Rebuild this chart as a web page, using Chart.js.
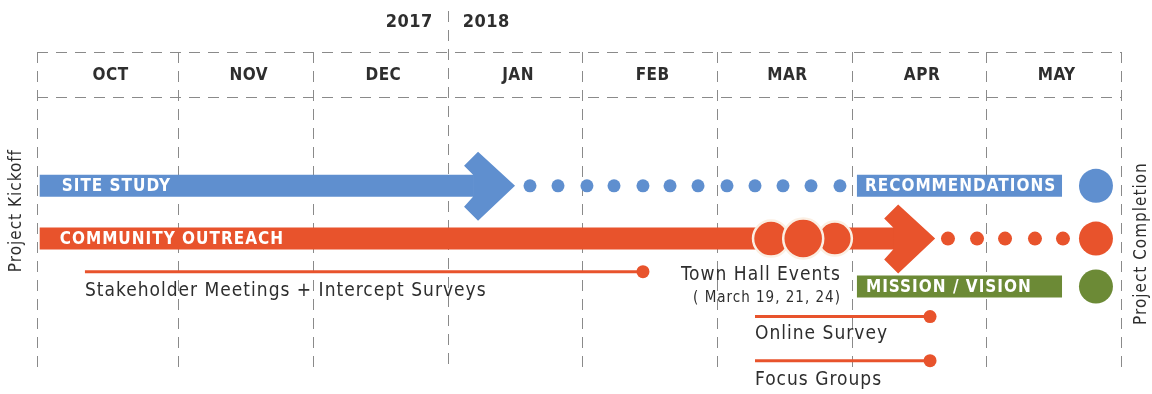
<!DOCTYPE html>
<html lang="en">
<head>
<meta charset="UTF-8">
<title>Project Timeline</title>
<script src="https://cdn.jsdelivr.net/npm/chart.js"></script>
<style>
  html, body { margin: 0; padding: 0; background: #fff; }
</style>
</head>
<body>
<canvas id="timeline" width="1152" height="394"></canvas>
<script>
  // x = months since Oct 1 2017 (0) up to Jun 1 2018 (8); y = lane depth (0 top .. 100 bottom)
  const months = ['OCT', 'NOV', 'DEC', 'JAN', 'FEB', 'MAR', 'APR', 'MAY'];
  const years = ['2017', '2018'];
  const yearBreak = 3;

  const lanes = { site: 41.9, outreach: 58.4, stakeholder: 68.75, mission: 73.4, online: 82.8, focus: 96.6 };

  const siteStudy = [-0.03, 3.19];
  const siteArrowTip = 3.50;
  const siteDots = [3.611, 3.819, 4.034, 4.235, 4.450, 4.651, 4.859, 5.074, 5.282, 5.490, 5.698, 5.913];
  const recommendations = [6.039, 7.562];
  const outreach = [-0.03, 6.33];
  const outreachArrowTip = 6.62;
  const townHall = [5.401, 5.875, 5.640];   // middle event drawn last, on top
  const outreachDots = [6.715, 6.931, 7.139, 7.361, 7.569];
  const missionVision = [6.039, 7.562];
  const completion = 7.814;
  const stakeholder = [0.306, 4.450];
  const onlineSurvey = [5.282, 6.582];
  const focusGroups = [5.282, 6.582];

  const BLUE = '#5f8fcf';
  const ORANGE = '#e8532c';
  const GREEN = '#6c8a36';
  const INK = '#2e2e2e';
  const GRID = '#8a8a8a';
  const FAMILY = "'DejaVu Sans Condensed', 'DejaVu Sans', sans-serif";

  function band(range, lane, color, order) {
    return {
      type: 'line', data: range.map(v => ({ x: v, y: lane })),
      borderColor: color, borderWidth: 22, borderCapStyle: 'butt',
      pointRadius: 0, showLine: true, fill: false, order: order
    };
  }

  function dots(xs, lane, color, r, order, outline) {
    return {
      type: 'scatter', data: xs.map(v => ({ x: v, y: lane })),
      backgroundColor: color, borderColor: outline || color,
      borderWidth: outline ? 2.5 : 0, pointRadius: r, order: order
    };
  }

  function thread(range, lane) {
    return {
      type: 'line', data: range.map(v => ({ x: v, y: lane })),
      borderColor: ORANGE, borderWidth: 3, showLine: true, fill: false,
      pointRadius: [0, 6.5], pointBackgroundColor: ORANGE, pointBorderWidth: 0, order: 5
    };
  }

  function arrowHead(ctx, tipX, y, color) {
    ctx.fillStyle = color;
    ctx.beginPath();
    ctx.moveTo(tipX, y);
    ctx.lineTo(tipX - 37, y - 34);
    ctx.lineTo(tipX - 51, y - 20);
    ctx.lineTo(tipX - 42, y - 11);
    ctx.lineTo(tipX - 42, y + 11);
    ctx.lineTo(tipX - 51, y + 21);
    ctx.lineTo(tipX - 37, y + 35);
    ctx.closePath();
    ctx.fill();
  }

  const timelinePlugin = {
    id: 'timeline',
    beforeDatasetsDraw(chart) {
      const { ctx, chartArea: a, scales: { x } } = chart;
      const headerBottom = a.top + 45;
      ctx.save();
      ctx.strokeStyle = GRID;
      ctx.lineWidth = 1;
      ctx.setLineDash([11, 8]);
      [a.top, headerBottom].forEach(y => {
        ctx.beginPath();
        ctx.moveTo(a.left, y + 0.5);
        ctx.lineTo(a.right, y + 0.5);
        ctx.stroke();
      });
      const edges = [];
      for (let i = 0; i <= months.length; i++) {
        edges.push(i === 0 ? a.left : x.getPixelForValue(i));
      }
      edges.forEach((px, i) => {
        const xx = Math.round(px) + 0.5;
        ctx.beginPath();
        ctx.moveTo(xx, i === yearBreak ? a.top - 41 : a.top);
        ctx.lineTo(xx, a.bottom);
        ctx.stroke();
      });
      ctx.setLineDash([]);

      // month + year labels
      ctx.fillStyle = INK;
      ctx.font = 'bold 17px ' + FAMILY;
      ctx.letterSpacing = '0.5px';
      ctx.textBaseline = 'middle';
      ctx.textAlign = 'center';
      months.forEach((m, i) => {
        ctx.fillText(m, (edges[i] + edges[i + 1]) / 2 + 3, (a.top + headerBottom) / 2 + 1);
      });
      const yb = edges[yearBreak];
      ctx.font = 'bold 18px ' + FAMILY;
      ctx.textAlign = 'right';
      ctx.fillText(years[0], yb - 15, a.top - 30);
      ctx.textAlign = 'left';
      ctx.fillText(years[1], yb + 15, a.top - 30);
      ctx.restore();
    },
    afterDatasetsDraw(chart) {
      const { ctx, chartArea: a, scales: { x, y } } = chart;
      ctx.save();
      arrowHead(ctx, x.getPixelForValue(siteArrowTip), y.getPixelForValue(lanes.site), BLUE);
      arrowHead(ctx, x.getPixelForValue(outreachArrowTip), y.getPixelForValue(lanes.outreach), ORANGE);

      ctx.fillStyle = '#ffffff';
      ctx.font = 'bold 17px ' + FAMILY;
      ctx.letterSpacing = '1px';
      ctx.textBaseline = 'middle';
      ctx.textAlign = 'left';
      ctx.fillText('SITE STUDY', x.getPixelForValue(siteStudy[0]) + 22, y.getPixelForValue(lanes.site) + 1);
      ctx.fillText('COMMUNITY OUTREACH', x.getPixelForValue(outreach[0]) + 20, y.getPixelForValue(lanes.outreach) + 1);
      ctx.fillText('RECOMMENDATIONS', x.getPixelForValue(recommendations[0]) + 8, y.getPixelForValue(lanes.site) + 1);
      ctx.fillText('MISSION / VISION', x.getPixelForValue(missionVision[0]) + 9, y.getPixelForValue(lanes.mission) + 1);

      ctx.fillStyle = INK;
      ctx.font = '19px ' + FAMILY;
      ctx.fillText('Stakeholder Meetings + Intercept Surveys', x.getPixelForValue(stakeholder[0]), y.getPixelForValue(lanes.stakeholder) + 19);
      ctx.fillText('Online Survey', x.getPixelForValue(onlineSurvey[0]), y.getPixelForValue(lanes.online) + 18);
      ctx.fillText('Focus Groups', x.getPixelForValue(focusGroups[0]), y.getPixelForValue(lanes.focus) + 19);
      ctx.textAlign = 'right';
      const thRight = x.getPixelForValue(missionVision[0]) - 16;
      ctx.fillText('Town Hall Events', thRight, y.getPixelForValue(lanes.stakeholder) + 3);
      ctx.font = '15px ' + FAMILY;
      ctx.fillText('( March 19, 21, 24)', thRight, y.getPixelForValue(lanes.stakeholder) + 26);

      // milestone captions, rotated
      ctx.font = '17px ' + FAMILY;
      ctx.textAlign = 'center';
      ctx.save();
      ctx.translate(a.left - 20, y.getPixelForValue(lanes.outreach) - 28);
      ctx.rotate(-Math.PI / 2);
      ctx.fillText('Project Kickoff', 0, 0);
      ctx.restore();
      ctx.save();
      ctx.translate(a.right + 21, y.getPixelForValue(lanes.outreach) + 5);
      ctx.rotate(-Math.PI / 2);
      ctx.fillText('Project Completion', 0, 0);
      ctx.restore();
      ctx.restore();
    }
  };

  const datasets = [
    dots(townHall, lanes.outreach, ORANGE, [18, 17, 20], 1, '#fbefe3'),
    dots([completion], lanes.site, BLUE, 17, 2),
    dots([completion], lanes.outreach, ORANGE, 17, 2),
    dots([completion], lanes.mission, GREEN, 17, 2),
    dots(siteDots, lanes.site, BLUE, 6.5, 3),
    dots(outreachDots, lanes.outreach, ORANGE, 7, 3),
    thread(stakeholder, lanes.stakeholder),
    thread(onlineSurvey, lanes.online),
    thread(focusGroups, lanes.focus),
    band(siteStudy, lanes.site, BLUE, 10),
    band(recommendations, lanes.site, BLUE, 10),
    band(outreach, lanes.outreach, ORANGE, 10),
    band(missionVision, lanes.mission, GREEN, 10)
  ];

  new Chart(document.getElementById('timeline'), {
    type: 'scatter',
    data: { datasets: datasets },
    options: {
      responsive: false,
      animation: false,
      events: [],
      layout: { padding: { left: 37, right: 31, top: 52, bottom: 22 } },
      plugins: { legend: { display: false }, tooltip: { enabled: false } },
      scales: {
        x: { type: 'linear', min: -0.05, max: 8, display: false },
        y: { type: 'linear', min: 0, max: 100, reverse: true, display: false }
      }
    },
    plugins: [timelinePlugin]
  });
</script>
</body>
</html>
